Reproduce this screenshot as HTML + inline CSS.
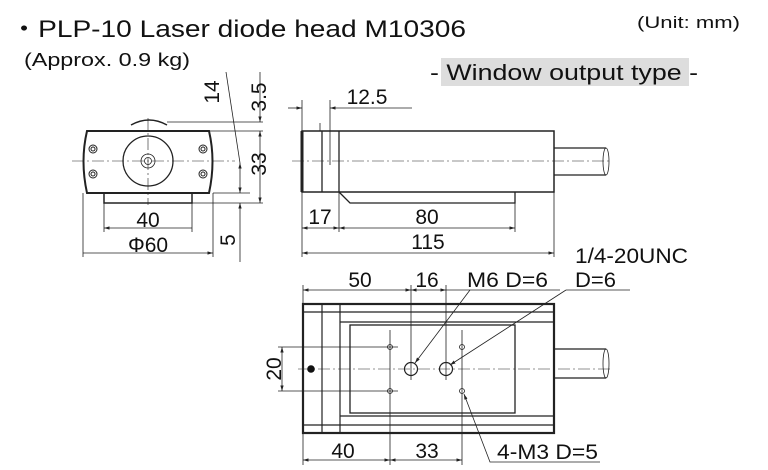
<!DOCTYPE html>
<html><head><style>body{margin:0;background:#fff}svg{display:block}text{font-family:"Liberation Sans",sans-serif;fill:#111}</style></head><body>
<svg width="768" height="470" viewBox="0 0 768 470" xmlns="http://www.w3.org/2000/svg">
<defs><marker id="a" viewBox="0 0 10 10" refX="10" refY="5" markerWidth="7" markerHeight="7" orient="auto-start-reverse"><path d="M0,2 L10,5 L0,8z" fill="#222"/></marker></defs>
<text x="10" y="37" font-size="24" textLength="456" lengthAdjust="spacingAndGlyphs">・PLP-10 Laser diode head M10306</text>
<text x="24" y="66" font-size="18" textLength="166" lengthAdjust="spacingAndGlyphs">(Approx. 0.9 kg)</text>
<text x="637" y="28" font-size="17" textLength="103" lengthAdjust="spacingAndGlyphs">(Unit: mm)</text>
<rect x="441" y="58" width="248" height="28" fill="#ddd"/>
<text x="430" y="80" font-size="22" textLength="268" lengthAdjust="spacingAndGlyphs">- Window output type -</text>
<g stroke="#222" fill="none" stroke-width="0.8">
<path d="M131,125 Q149,115 167,125" stroke-width="1.5"/>
<path d="M87,131 H209 Q216,161 209,193 H87 Q80,161 87,131Z" stroke-width="2"/>
<rect x="104" y="193" width="88" height="10" stroke-width="1.5"/>
<circle cx="148" cy="161" r="25" stroke-width="1.3"/><circle cx="148" cy="161" r="7"/><circle cx="148" cy="161" r="3.5"/>
<g stroke-width="1"><circle cx="93" cy="149" r="4"/><circle cx="93" cy="149" r="2"/><circle cx="93" cy="174" r="4"/><circle cx="93" cy="174" r="2"/><circle cx="203" cy="149" r="4"/><circle cx="203" cy="149" r="2"/><circle cx="203" cy="174" r="4"/><circle cx="203" cy="174" r="2"/></g>
<path d="M72,161 H235 M148,118 V205" stroke-dasharray="12,3,2,3" stroke-width="0.6"/>
<path d="M167,122 H263 M209,131 H263 M213,193 H250 M192,203 H263 M104,203 V232 M192,203 V232 M83,193 V257 M213,193 V257"/>
<path d="M104,228 H192 M83,253 H213" marker-start="url(#a)" marker-end="url(#a)"/>
<path d="M260,72 V122" marker-end="url(#a)"/><path d="M260,131 V203" marker-start="url(#a)" marker-end="url(#a)"/>
<path d="M240,163 V193" marker-start="url(#a)" marker-end="url(#a)"/><path d="M240,163 L226,72"/>
<path d="M240,262 V203" marker-end="url(#a)"/>
<rect x="302" y="131" width="252" height="61" stroke-width="1.5"/>
<path d="M302,131 V192" stroke-width="3"/><path d="M322,131 V192 M339,131 V192" stroke-width="1.3"/>
<path d="M320,123 V131"/>
<path d="M339,192 L350,203 H515 V192" stroke-width="1.3"/>
<path d="M554,148 H606 M554,175 H606" stroke-width="1.3"/><ellipse cx="606" cy="161.5" rx="3" ry="13.5"/>
<path d="M292,161 H612" stroke-dasharray="12,3,2,3" stroke-width="0.6"/>
<path d="M302,100 V131 M330,100 V165 M302,192 V257 M339,192 V232 M515,203 V232 M554,192 V257"/>
<path d="M288,108 H302" marker-end="url(#a)"/><path d="M412,108 H330" marker-end="url(#a)"/>
<path d="M302,228 H339" marker-start="url(#a)" marker-end="url(#a)"/><path d="M339,228 H515" marker-start="url(#a)" marker-end="url(#a)"/>
<path d="M302,253 H554" marker-start="url(#a)" marker-end="url(#a)"/>
<rect x="303" y="304" width="251" height="129" stroke-width="2.2"/>
<path d="M303,312 H554 M303,425 H554 M340,322 H554 M340,416 H554 M322,304 V433 M340,304 V433" stroke-width="1.2"/>
<rect x="350" y="325" width="165" height="88" stroke-width="1.3"/>
<path d="M554,349 H606 M554,378 H606" stroke-width="1.3"/><ellipse cx="606" cy="363.5" rx="3" ry="14.5"/>
<path d="M298,369 H612" stroke-dasharray="12,3,2,3" stroke-width="0.6"/>
<circle cx="390" cy="347" r="2.5"/><circle cx="462" cy="347" r="2.5"/><circle cx="390" cy="391" r="2.5"/><circle cx="462" cy="391" r="2.5"/>
<circle cx="411" cy="369" r="6.5" stroke-width="1.2"/><circle cx="446" cy="369" r="6.5" stroke-width="1.2"/>
<path d="M303,285 V304 M411,285 V380 M446,285 V380 M303,433 V465 M390,330 V465 M462,330 V465 M278,347 H398 M278,391 H398"/>
<path d="M303,290 H411" marker-start="url(#a)" marker-end="url(#a)"/><path d="M411,290 H446" marker-start="url(#a)" marker-end="url(#a)"/>
<path d="M446,290 H560"/>
<path d="M282,347 V391" marker-start="url(#a)" marker-end="url(#a)"/>
<path d="M303,460 H390" marker-start="url(#a)" marker-end="url(#a)"/><path d="M390,460 H462" marker-start="url(#a)" marker-end="url(#a)"/>
<path d="M470,290 L415,363" marker-end="url(#a)"/>
<path d="M566,290 H630 M566,290 L450,365" marker-end="url(#a)"/>
<path d="M600,462 H490 L464,394" marker-end="url(#a)"/>
</g>
<circle cx="311" cy="369" r="3.8" fill="#111"/>
<g font-size="21" text-anchor="middle">
<text x="148" y="227">40</text><text x="148" y="252">Φ60</text>
<text transform="translate(219,92) rotate(-90)">14</text>
<text transform="translate(266,97) rotate(-90)">3.5</text>
<text transform="translate(266,164) rotate(-90)">33</text>
<text transform="translate(235,240) rotate(-90)">5</text>
<text x="367" y="104">12.5</text>
<text x="320" y="224">17</text><text x="427" y="224">80</text><text x="428" y="249">115</text>
<text x="360" y="287">50</text><text x="427" y="287">16</text>
<text transform="translate(281,369) rotate(-90)">20</text>
<text x="343" y="458">40</text><text x="427" y="458">33</text>
</g>
<g font-size="21">
<text x="467" y="287" textLength="81" lengthAdjust="spacingAndGlyphs">M6 D=6</text>
<text x="575" y="263" textLength="113" lengthAdjust="spacingAndGlyphs">1/4-20UNC</text>
<text x="575" y="287" textLength="41" lengthAdjust="spacingAndGlyphs">D=6</text>
<text x="497" y="459" textLength="101" lengthAdjust="spacingAndGlyphs">4-M3 D=5</text>
</g>
</svg>
</body></html>
